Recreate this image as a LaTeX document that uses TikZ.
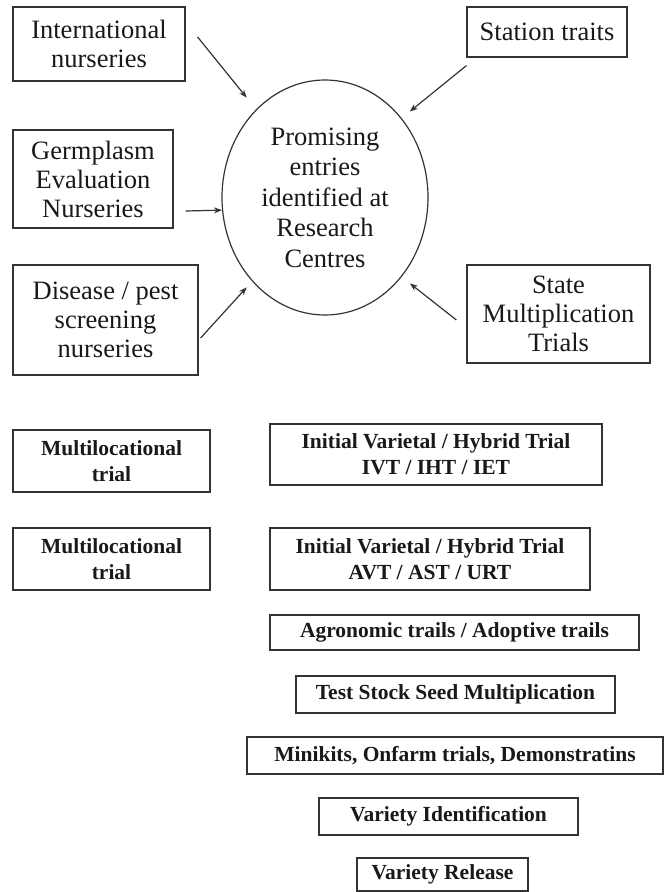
\documentclass[tikz,border=0pt]{standalone}
\usepackage{fontspec}
\setmainfont{Liberation Serif}
\usepackage{tikz}
\usetikzlibrary{arrows.meta,shapes.geometric}

\begin{document}
\begin{tikzpicture}[
  x=1pt, y=-1pt,
  box/.style={draw=black!80, line width=1.2pt, inner sep=0pt, align=center,
              text=black!90, font=\fontsize{26.5}{29}\selectfont},
  bbox/.style={box, font=\bfseries\fontsize{21.5}{26}\selectfont},
  arr/.style={-{Stealth[length=8pt,width=6pt]}, line width=1.2pt, draw=black!80},
]
\useasboundingbox (0,0) rectangle (664,892);

% sources feeding the research centres
\node[box, minimum width=172pt, minimum height=74pt] (intl) at (99,44)
     {International\\nurseries};
\node[box, minimum width=160pt, minimum height=98pt] (germ) at (93,179)
     {Germplasm\\Evaluation\\Nurseries};
\node[box, minimum width=185pt, minimum height=110pt] (disease) at (105.5,320)
     {Disease / pest\\screening\\nurseries};
\node[box, minimum width=160pt, minimum height=50pt] (station) at (547,32)
     {Station traits};
\node[box, minimum width=183pt, minimum height=98pt] (state) at (558.5,314)
     {State\\Multiplication\\Trials};

\node[box, ellipse, minimum width=206pt, minimum height=235pt,
      font=\fontsize{26.5}{30.5}\selectfont] (promise) at (325,197.5)
     {Promising\\entries\\identified at\\Research\\Centres};

\draw[arr, shorten >=15pt] ([shift={(12,-7)}]intl.east) -- (promise.128);
\draw[arr] ([shift={(12,32)}]germ.east) -- (promise.187);
\draw[arr, shorten >=8pt] ([shift={(2,18)}]disease.east) -- (promise.229);
\draw[arr, shorten >=10.5pt] ([shift={(0,8)}]station.south west) -- (promise.46.5);
\draw[arr, shorten >=10.5pt] ([shift={(-10,6)}]state.west) -- (promise.-46.5);

% testing stages
\node[bbox, minimum width=197pt, minimum height=62pt] (multi1) at (111.5,461)
     {Multilocational\\trial};
\node[bbox, minimum width=332pt, minimum height=61pt] (ivt) at (436,454.5)
     {Initial Varietal / Hybrid Trial\\IVT / IHT / IET};
\node[bbox, minimum width=197pt, minimum height=62pt] (multi2) at (111.5,559)
     {Multilocational\\trial};
\node[bbox, minimum width=320pt, minimum height=62pt] (avt) at (430,559)
     {Initial Varietal / Hybrid Trial\\AVT / AST / URT};
\node[bbox, minimum width=369pt, minimum height=35pt] (agro) at (454.5,632.5)
     {Agronomic trails / Adoptive trails};
\node[bbox, minimum width=319pt, minimum height=37pt] (stock) at (455.5,694.5)
     {Test Stock Seed Multiplication};
\node[bbox, minimum width=416pt, minimum height=37pt] (mini) at (455,755.5)
     {Minikits, Onfarm trials, Demonstratins};
\node[bbox, minimum width=259pt, minimum height=37pt] (ident) at (448.5,816.5)
     {Variety Identification};
\node[bbox, minimum width=171pt, minimum height=33pt] (release) at (442.5,874.5)
     {Variety Release};
\end{tikzpicture}
\end{document}
